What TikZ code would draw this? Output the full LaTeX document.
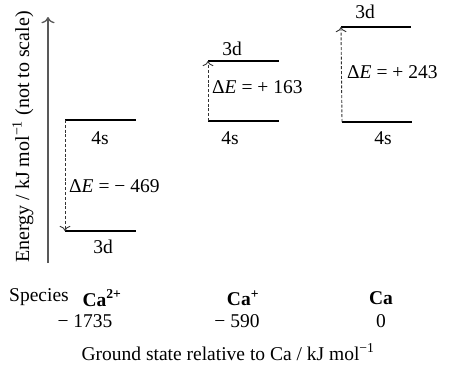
\documentclass[tikz,border=0pt]{standalone}
\usepackage{fontspec}
\setmainfont{Liberation Serif}
\usetikzlibrary{arrows.meta, positioning}

\begin{document}
\begin{tikzpicture}[
  x=1pt, y=-1pt,
  font=\fontsize{19.5}{22}\selectfont,
  level/.style={line width=2.6pt},
  axis/.style={-{To[length=2.2mm]}, black!65, line width=1.3pt},
  jump/.style={-{To[length=1.8mm]}, dash pattern=on 3pt off 1.8pt, line width=0.9pt, black!80},
  orb/.style={inner sep=1pt},
  dE/.style={anchor=west, inner sep=1pt},
  species/.style={font=\fontsize{19.5}{22}\selectfont\bfseries},
]
\useasboundingbox (0,0) rectangle (449,364);

% =========================
% Energy axis
% =========================
\coordinate (ybot) at (48,263);
\coordinate (ytop) at (48,17);
\draw[axis] (ybot) -- (ytop);
\node[rotate=90, font=\fontsize{20}{22}\selectfont] (ylab) at (23,137)
  {Energy / kJ mol\textsuperscript{−1} (not to scale)};

% =========================
% Ca2+ levels
% =========================
\coordinate (a4sL) at (65,120);  \coordinate (a4sR) at (136,120);
\coordinate (a3dL) at (65,231);  \coordinate (a3dR) at (136,231);
\draw[level] (a4sL) -- (a4sR);
\draw[level] (a3dL) -- (a3dR);
\draw[jump] (a4sL) -- (a3dL);
\node[orb] (a4s) at (100,138) {4s};
\node[orb] (a3d) at (103,247) {3d};
\node[dE] (adE) at (68,186) {Δ\textit{E} = − 469};

% =========================
% Ca+ levels
% =========================
\coordinate (b3dL) at (208,61);  \coordinate (b3dR) at (279,61);
\coordinate (b4sL) at (208,121); \coordinate (b4sR) at (279,121);
\draw[level] (b3dL) -- (b3dR);
\draw[level] (b4sL) -- (b4sR);
\draw[jump] (b4sL) -- (b3dL);
\node[orb] (b3d) at (232,49) {3d};
\node[orb] (b4s) at (230,138) {4s};
\node[dE] (bdE) at (211,87) {Δ\textit{E} = + 163};

% =========================
% Ca levels
% =========================
\coordinate (c3dL) at (341,27);  \coordinate (c3dR) at (411,27);
\coordinate (c4sL) at (342,122); \coordinate (c4sR) at (412,122);
\draw[level] (c3dL) -- (c3dR);
\draw[level] (c4sL) -- (c4sR);
\draw[jump] (c4sL) -- (c3dL);
\node[orb] (c3d) at (365,12) {3d};
\node[orb] (c4s) at (383,138) {4s};
\node[dE] (cdE) at (346,72) {Δ\textit{E} = + 243};

% =========================
% Species and ground states
% =========================
\node (spec) at (39,297) {Species};
\node[species] (ca2) at (102,298) {Ca\textsuperscript{2+}};
\node[species] (ca1) at (243,298) {Ca\textsuperscript{+}};
\node[species] (ca0) at (381,298) {Ca};
\node (v2) at (85,321) {− 1735};
\node (v1) at (237,321) {− 590};
\node (v0) at (381,321) {0};
\node (xlab) at (228,352) {Ground state relative to Ca / kJ mol\textsuperscript{−1}};

\end{tikzpicture}
\end{document}
